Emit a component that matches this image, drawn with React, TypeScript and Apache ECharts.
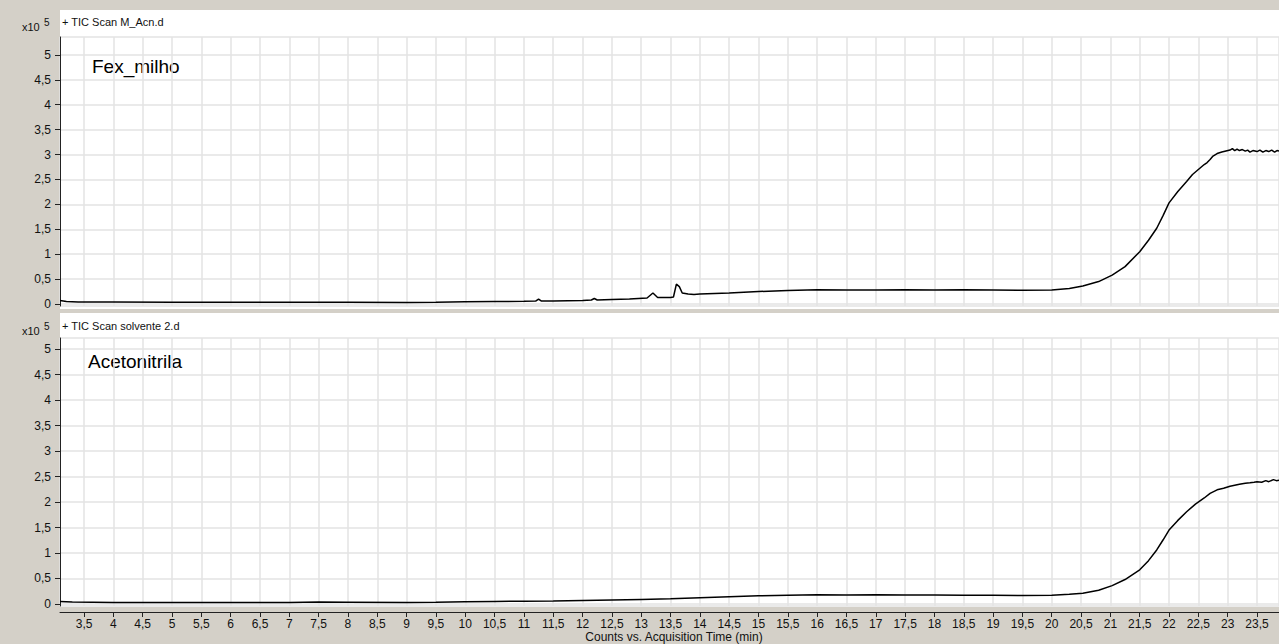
import React, { useEffect, useRef } from "react";
import * as echarts from "echarts";

// ---- Data ----
// Retention times (min) and TIC counts (x10^5) for "Fex_milho"
const TOP_TIME = [
  3.09, 3.2, 3.4, 4, 5, 6, 7, 8, 9, 9.5, 10, 10.5, 11, 11.2, 11.25, 11.3, 11.5, 12,
  12.15, 12.2, 12.25, 12.5, 12.8, 13.1, 13.2, 13.28, 13.5, 13.55, 13.6, 13.65, 13.7,
  13.8, 13.9, 14.0, 14.5, 15, 15.5, 16, 16.5, 17, 17.5, 18, 18.5, 19, 19.5, 20, 20.3,
  20.53, 20.8, 21.03, 21.25, 21.5, 21.65, 21.79, 21.9, 22.0, 22.15, 22.3, 22.4, 22.53,
  22.6, 22.65, 22.7, 22.75, 22.82, 22.9, 22.97, 23.04, 23.08, 23.12, 23.16, 23.2, 23.25,
  23.3, 23.34, 23.38, 23.43, 23.5, 23.55, 23.6, 23.65, 23.7, 23.75, 23.8, 23.84, 23.875,
];
const TOP_COUNTS = [
  0.07, 0.05, 0.04, 0.04, 0.035, 0.035, 0.035, 0.035, 0.03, 0.035, 0.045, 0.05, 0.055,
  0.06, 0.1, 0.06, 0.06, 0.07, 0.08, 0.11, 0.08, 0.09, 0.1, 0.12, 0.22, 0.13, 0.13,
  0.14, 0.4, 0.35, 0.22, 0.2, 0.19, 0.2, 0.22, 0.25, 0.27, 0.285, 0.28, 0.28, 0.285,
  0.28, 0.285, 0.28, 0.275, 0.28, 0.31, 0.36, 0.45, 0.58, 0.75, 1.05, 1.28, 1.52, 1.78,
  2.03, 2.26, 2.46, 2.6, 2.73, 2.8, 2.84, 2.9, 2.97, 3.02, 3.05, 3.07, 3.09, 3.12, 3.08,
  3.11, 3.08, 3.1, 3.07, 3.09, 3.05, 3.08, 3.06, 3.09, 3.05, 3.08, 3.06, 3.09, 3.05,
  3.08, 3.07,
];

// Retention times (min) and TIC counts (x10^5) for "Acetonitrila"
const BOTTOM_TIME = [
  3.09, 3.3, 4, 5, 6, 7, 7.5, 8, 9, 9.5, 10, 10.5, 11, 11.5, 12, 12.5, 13, 13.5, 14,
  14.5, 15, 15.5, 16, 16.5, 17, 17.5, 18, 18.5, 19, 19.5, 20, 20.3, 20.53, 20.8, 21.03,
  21.25, 21.5, 21.65, 21.79, 21.9, 22.0, 22.15, 22.3, 22.45, 22.6, 22.7, 22.82, 22.93,
  23.04, 23.12, 23.2, 23.3, 23.38, 23.45, 23.5, 23.58, 23.65, 23.7, 23.78, 23.83, 23.875,
];
const BOTTOM_COUNTS = [
  0.05, 0.04, 0.03, 0.03, 0.03, 0.03, 0.04, 0.035, 0.03, 0.035, 0.045, 0.05, 0.055,
  0.06, 0.07, 0.08, 0.09, 0.1, 0.12, 0.14, 0.16, 0.17, 0.18, 0.175, 0.18, 0.175, 0.175,
  0.17, 0.17, 0.165, 0.17, 0.19, 0.21, 0.27, 0.36, 0.48, 0.67, 0.85, 1.06, 1.26, 1.45,
  1.64, 1.81, 1.96, 2.08, 2.17, 2.24, 2.27, 2.31, 2.33, 2.35, 2.37, 2.38, 2.39, 2.4,
  2.39, 2.42, 2.4, 2.44, 2.42, 2.43,
];

const TOP_HEADER = "+ TIC Scan M_Acn.d";
const BOTTOM_HEADER = "+ TIC Scan solvente 2.d";
const TOP_LABEL = "Fex_milho";
const BOTTOM_LABEL = "Acetonitrila";
const X_TITLE = "Counts vs. Acquisition Time (min)";

const X_MIN = 3.09;
const X_MAX = 23.875;

const FONT = "'Liberation Sans', Arial, sans-serif";
const GRAY = "#d4d0c8";
const GRID_LINE = "#e3e3e3";

const zip = (xs: number[], ys: number[]) => xs.map((x, i) => [x, ys[i]]);

const fmt = (v: number) => {
  if (Math.abs(v * 2 - Math.round(v * 2)) > 1e-6) return "";
  return String(Math.round(v * 2) / 2).replace(".", ",");
};

export default function App() {
  const ref = useRef<HTMLDivElement>(null);

  useEffect(() => {
    if (!ref.current) return;
    const chart = echarts.init(ref.current, undefined, { renderer: "svg" });

    const yAxisCommon = {
      type: "value" as const,
      splitNumber: 11,
      axisLine: { show: true, lineStyle: { color: "#222", width: 1 } },
      axisTick: { show: true, length: 5, lineStyle: { color: "#222" } },
      axisLabel: {
        show: true,
        margin: 9,
        color: "#111",
        fontSize: 12,
        fontFamily: FONT,
        formatter: fmt,
        showMinLabel: false,
        showMaxLabel: false,
      },
      splitLine: { show: true, lineStyle: { color: GRID_LINE, width: 1.5 } },
    };

    const headerText = (x: number, y: number, text: string) => ({
      type: "text",
      x,
      y,
      style: { text, fill: "#111", font: `11px ${FONT}`, textVerticalAlign: "middle" },
    });

    const scaleLabel = (y: number) => [
      {
        type: "text",
        x: 22,
        y: y + 5,
        style: { text: "x10", fill: "#111", font: `11px ${FONT}`, textVerticalAlign: "middle" },
      },
      {
        type: "text",
        x: 44,
        y: y,
        style: { text: "5", fill: "#111", font: `10px ${FONT}`, textVerticalAlign: "middle" },
      },
    ];

    chart.setOption({
      animation: false,
      backgroundColor: GRAY,
      graphic: [
        { type: "rect", z: -10, shape: { x: 60, y: 10, width: 1219, height: 299 }, style: { fill: "#fff" } },
        { type: "rect", z: -10, shape: { x: 60, y: 313, width: 1219, height: 294 }, style: { fill: "#fff" } },
        headerText(62, 22, TOP_HEADER),
        headerText(62, 326, BOTTOM_HEADER),
        ...scaleLabel(22),
        ...scaleLabel(326),
        {
          type: "text",
          x: 92,
          y: 66,
          style: { text: TOP_LABEL, fill: "#000", font: `19px ${FONT}`, textVerticalAlign: "middle" },
        },
        {
          type: "text",
          x: 88,
          y: 361,
          style: { text: BOTTOM_LABEL, fill: "#000", font: `19px ${FONT}`, textVerticalAlign: "middle" },
        },
        {
          type: "text",
          x: 674,
          y: 637,
          style: {
            text: X_TITLE,
            fill: "#111",
            font: `12px ${FONT}`,
            textAlign: "center",
            textVerticalAlign: "middle",
          },
        },
      ],
      grid: [
        { left: 60, right: 0, top: 37, height: 269 },
        { left: 60, right: 0, top: 338, height: 268 },
      ],
      xAxis: [
        {
          type: "value",
          gridIndex: 0,
          min: X_MIN,
          max: X_MAX,
          splitNumber: 40,
          axisLine: { show: false },
          axisTick: { show: false },
          axisLabel: { show: false },
          splitLine: { show: true, lineStyle: { color: GRID_LINE, width: 1.5 } },
        },
        {
          type: "value",
          gridIndex: 1,
          min: X_MIN,
          max: X_MAX,
          splitNumber: 40,
          offset: 6,
          axisLine: { show: true, onZero: false, lineStyle: { color: "#222", width: 1 } },
          axisTick: { show: true, length: 5, lineStyle: { color: "#222" } },
          axisLabel: {
            show: true,
            margin: 6,
            color: "#111",
            fontSize: 12,
            fontFamily: FONT,
            formatter: fmt,
            showMinLabel: false,
            showMaxLabel: false,
          },
          splitLine: { show: true, lineStyle: { color: GRID_LINE, width: 1.5 } },
        },
      ],
      yAxis: [
        { ...yAxisCommon, gridIndex: 0, min: -0.04, max: 5.36 },
        { ...yAxisCommon, gridIndex: 1, min: -0.04, max: 5.22 },
      ],
      series: [
        {
          type: "line",
          xAxisIndex: 0,
          yAxisIndex: 0,
          data: zip(TOP_TIME, TOP_COUNTS),
          showSymbol: false,
          symbol: "none",
          lineStyle: { color: "#000", width: 1.5 },
        },
        {
          type: "line",
          xAxisIndex: 1,
          yAxisIndex: 1,
          data: zip(BOTTOM_TIME, BOTTOM_COUNTS),
          showSymbol: false,
          symbol: "none",
          lineStyle: { color: "#000", width: 1.5 },
        },
      ],
    });

    return () => chart.dispose();
  }, []);

  return (
    <div
      ref={ref}
      style={{ position: "fixed", left: 0, top: 0, width: 1279, height: 644 }}
    />
  );
}
